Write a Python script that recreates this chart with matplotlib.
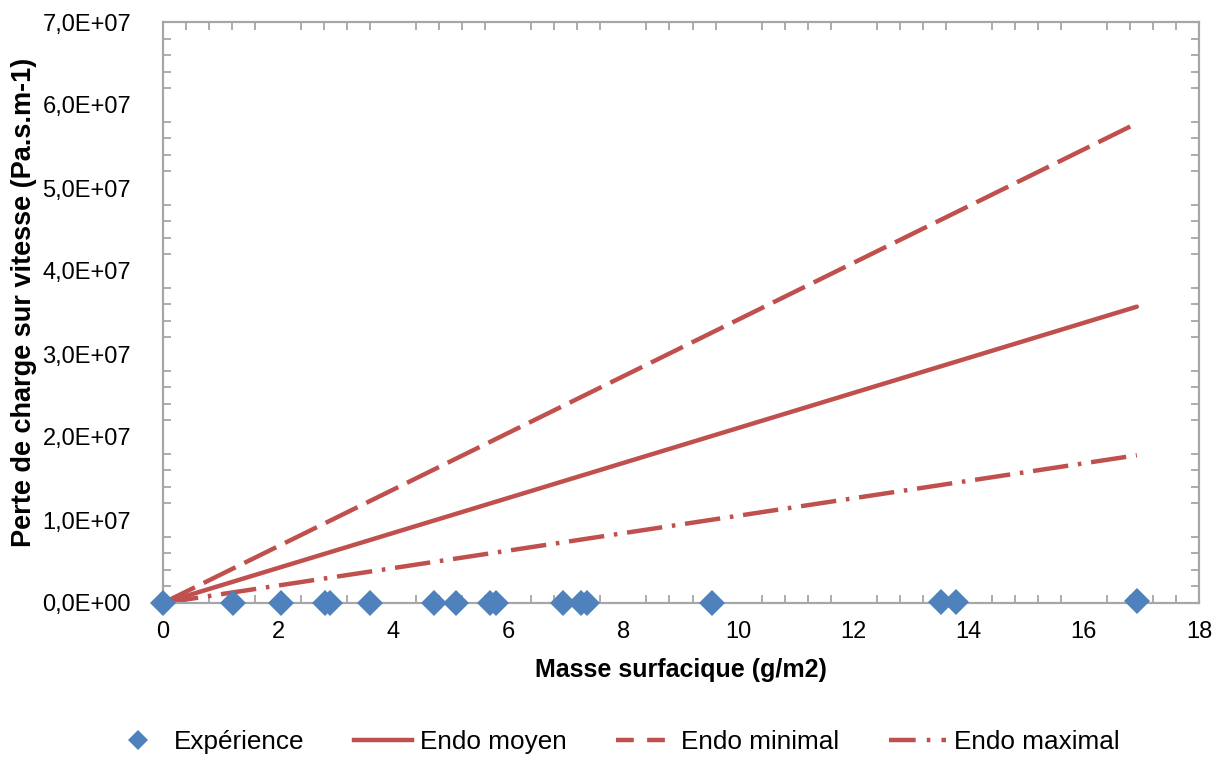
import matplotlib
matplotlib.use("Agg")
import matplotlib.pyplot as plt
from matplotlib.ticker import MultipleLocator, FuncFormatter
from matplotlib.lines import Line2D

plt.rcParams['font.family'] = ['Liberation Sans', 'DejaVu Sans']

# Experimental points
exp_x = [0.0, 1.22, 2.05, 2.81, 2.90, 3.60, 4.71, 5.09, 5.68, 5.79, 6.95, 7.27, 7.36, 9.53, 13.52, 13.78, 16.92]
exp_y = [0.0, 0.0, 0.0, 0.0, 0.0, 0.0, 0.0, 0.0, 0.0, 0.0, 0.0, 0.0, 0.0, 0.0, 1.0e5, 1.5e5, 2.5e5]

# Model lines
model_x = [0.0, 16.92]
endo_moyen = [0.0, 3.57e7]
endo_minimal = [0.0, 5.78e7]
endo_maximal = [0.0, 1.78e7]

labels = ["Expérience", "Endo moyen", "Endo minimal", "Endo maximal"]
xlabel = "Masse surfacique (g/m2)"
ylabel = "Perte de charge sur vitesse (Pa.s.m-1)"

red = "#C0504D"
blue = "#4F81BD"
grey = "#A6A6A6"

fig = plt.figure(figsize=(12.24, 7.58), dpi=100)
ax = fig.add_axes([163/1224, 1 - 603/758, (1199-163)/1224, (603-22)/758])

lw = 3.2
ax.plot(model_x, endo_moyen, color=red, lw=lw, solid_capstyle='round', zorder=2)
ax.plot(model_x, endo_minimal, color=red, lw=lw, dashes=(8, 2.2), zorder=2)
ax.plot(model_x, endo_maximal, color=red, lw=lw, dashes=(8, 2.2, 0.8, 2.2), zorder=2)
ax.plot(exp_x, exp_y, linestyle='none', marker='D', markersize=13, color=blue,
        markeredgewidth=0, clip_on=False, zorder=3)

ax.set_xlim(0, 18)
ax.set_ylim(0, 7e7)
ax.xaxis.set_major_locator(MultipleLocator(2))
ax.xaxis.set_minor_locator(MultipleLocator(0.4))
ax.yaxis.set_major_locator(MultipleLocator(1e7))
ax.yaxis.set_minor_locator(MultipleLocator(0.2e7))

def yfmt(v, pos):
    return "{:.1E}".format(v).replace(".", ",")
ax.yaxis.set_major_formatter(FuncFormatter(yfmt))

for s in ax.spines.values():
    s.set_color(grey)
    s.set_linewidth(1.6)

ax.tick_params(axis='both', which='major', length=0, labelsize=17, colors='black')
ax.tick_params(axis='x', which='major', pad=13)
ax.tick_params(axis='y', which='major', pad=23)
ax.tick_params(which='minor', direction='in', length=6, width=1.3, color=grey,
               top=True, right=True, bottom=True, left=True)

ax.set_xlabel(xlabel, fontsize=18, fontweight='bold', labelpad=11)
ax.set_ylabel(ylabel, fontsize=19.5, fontweight='bold')
ax.yaxis.set_label_coords((37 - 163) / 1036, (603 - 302) / 581)

handles = [
    Line2D([], [], linestyle='none', marker='D', markersize=10, color=blue, markeredgewidth=0),
    Line2D([], [], color=red, lw=lw),
    Line2D([], [], color=red, lw=lw, dashes=(4, 3)),
    Line2D([], [], color=red, lw=lw, dashes=(6, 2.5, 0.8, 2.5)),
]
fig.legend(handles, labels, loc='center', bbox_to_anchor=(0.502, 1 - 742/758), ncol=4,
           frameon=False, fontsize=18.8, handlelength=2.2, columnspacing=1.9, handletextpad=0.3)

fig.savefig("out.png", dpi=100)
